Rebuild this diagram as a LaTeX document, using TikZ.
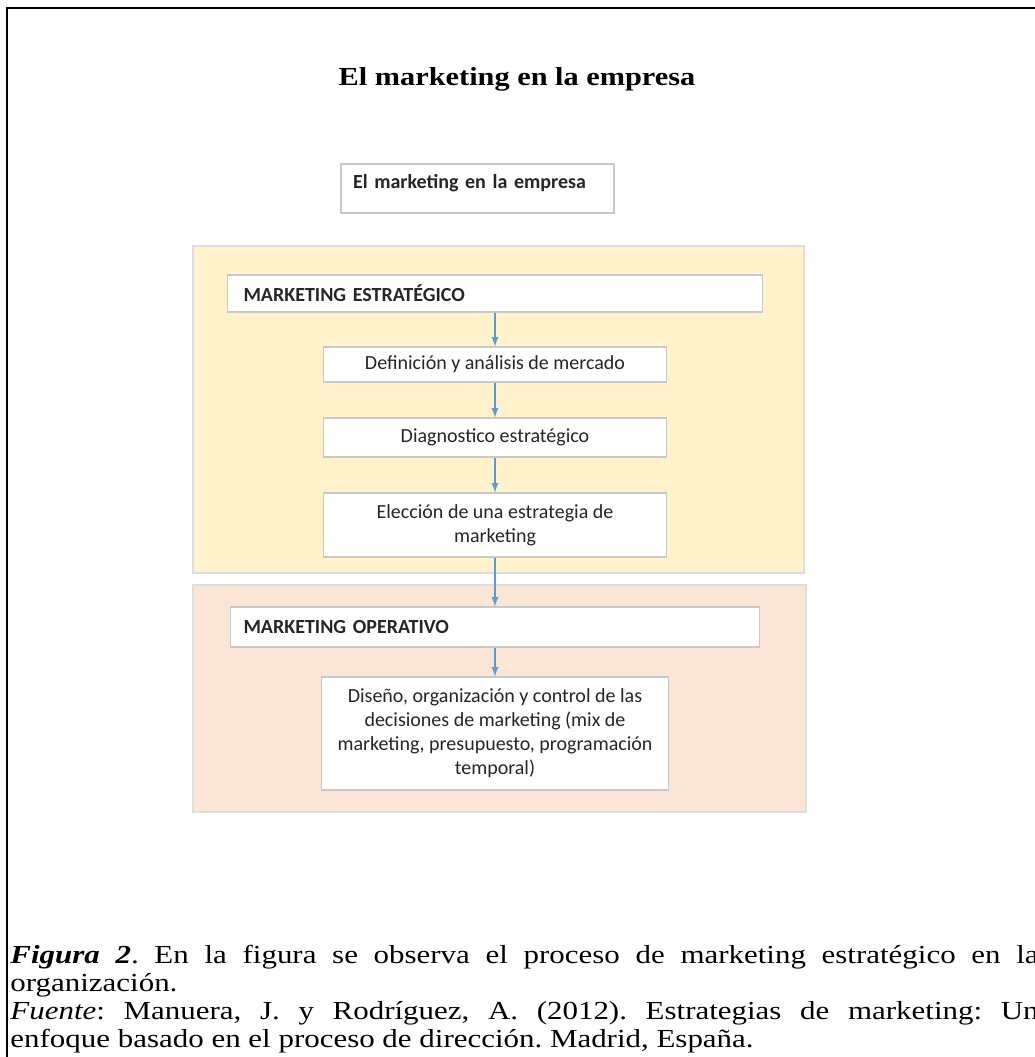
\documentclass[tikz,border=0pt]{standalone}
\usepackage{fontspec}
\setmainfont{Liberation Serif}
\newfontfamily\boxfont{Carlito}
\frenchspacing

\definecolor{estrfill}{HTML}{FFF2CC}
\definecolor{operfill}{HTML}{FBE5D6}
\definecolor{arrowblue}{HTML}{5B9BD5}
\definecolor{boxline}{HTML}{C8C8C8}
\definecolor{boxtext}{HTML}{262626}

\begin{document}
\begin{tikzpicture}[x=0.5pt, y=-0.5pt,
  box/.style={draw=boxline, line width=0.6pt, fill=white, text=boxtext,
    font=\boxfont\fontsize{10}{12}\selectfont, align=center, inner sep=0pt},
  panel/.style={draw=black!13, line width=0.6pt},
  flow/.style={draw=arrowblue, line width=0.6pt, -latex},
  captext/.style={anchor=base west, inner sep=0pt, xscale=1.19,
    font=\fontsize{13}{15}\selectfont}]
\useasboundingbox (0,0) rectangle (1035,1057);
\draw[line width=1.1pt] (7,8) rectangle (1070,1090);

\node[captext, anchor=base, xscale=0.98] (title) at (517,85)
  {\textbf{El marketing en la empresa}};

\node[box, inner xsep=6pt, text width=124.5pt, align=left, text height=12pt,
  text depth=12.5pt, font=\boxfont\bfseries\fontsize{10}{12}\selectfont]
  (empresa) at (477.5,188.5) {El marketing en la empresa};

\draw[panel, fill=estrfill] (193,246) rectangle (804,573);
\draw[panel, fill=operfill] (193,585) rectangle (806,812);

\node[box, inner xsep=8pt, text width=251.5pt, align=left, minimum height=18.5pt,
  font=\boxfont\bfseries\fontsize{10}{12}\selectfont]
  (estr) at (495,293.5) {MARKETING ESTRATÉGICO};
\node[box, minimum width=171.5pt, minimum height=17.5pt] (mercado) at (495,364.5)
  {Definición y análisis de mercado};
\node[box, minimum width=171.5pt, minimum height=19.5pt] (diag) at (495,437.5)
  {Diagnostico estratégico};
\node[box, minimum width=171.5pt, minimum height=32pt] (eleccion) at (495,525)
  {Elección de una estrategia de\\ marketing};

\node[box, inner xsep=6.5pt, text width=251.5pt, align=left, minimum height=20pt,
  font=\boxfont\bfseries\fontsize{10}{12}\selectfont]
  (oper) at (495,627) {MARKETING OPERATIVO};
\node[box, minimum width=173.5pt, minimum height=56.5pt] (diseno) at (495,733.5)
  {Diseño, organización y control de las\\ decisiones de marketing (mix de\\
   marketing, presupuesto, programación\\ temporal)};

\draw[flow] (estr) -- (mercado);
\draw[flow] (mercado) -- (diag);
\draw[flow] (diag) -- (eleccion);
\draw[flow] (eleccion) -- (oper);
\draw[flow] (oper) -- (diseno);

\node[captext] (cap1) at (10,963) {\makebox[432pt][s]{\textbf{\textit{Figura 2}}. En la
  figura se observa el proceso de marketing estratégico en la}};
\node[captext] (cap2) at (10,991) {organización.};
\node[captext] (cap3) at (10,1019) {\makebox[432pt][s]{\textit{Fuente}: Manuera, J. y
  Rodríguez, A. (2012). Estrategias de marketing: Un}};
\node[captext] (cap4) at (10,1047) {enfoque basado en el proceso de dirección. Madrid,
  España.};
\end{tikzpicture}
\end{document}
